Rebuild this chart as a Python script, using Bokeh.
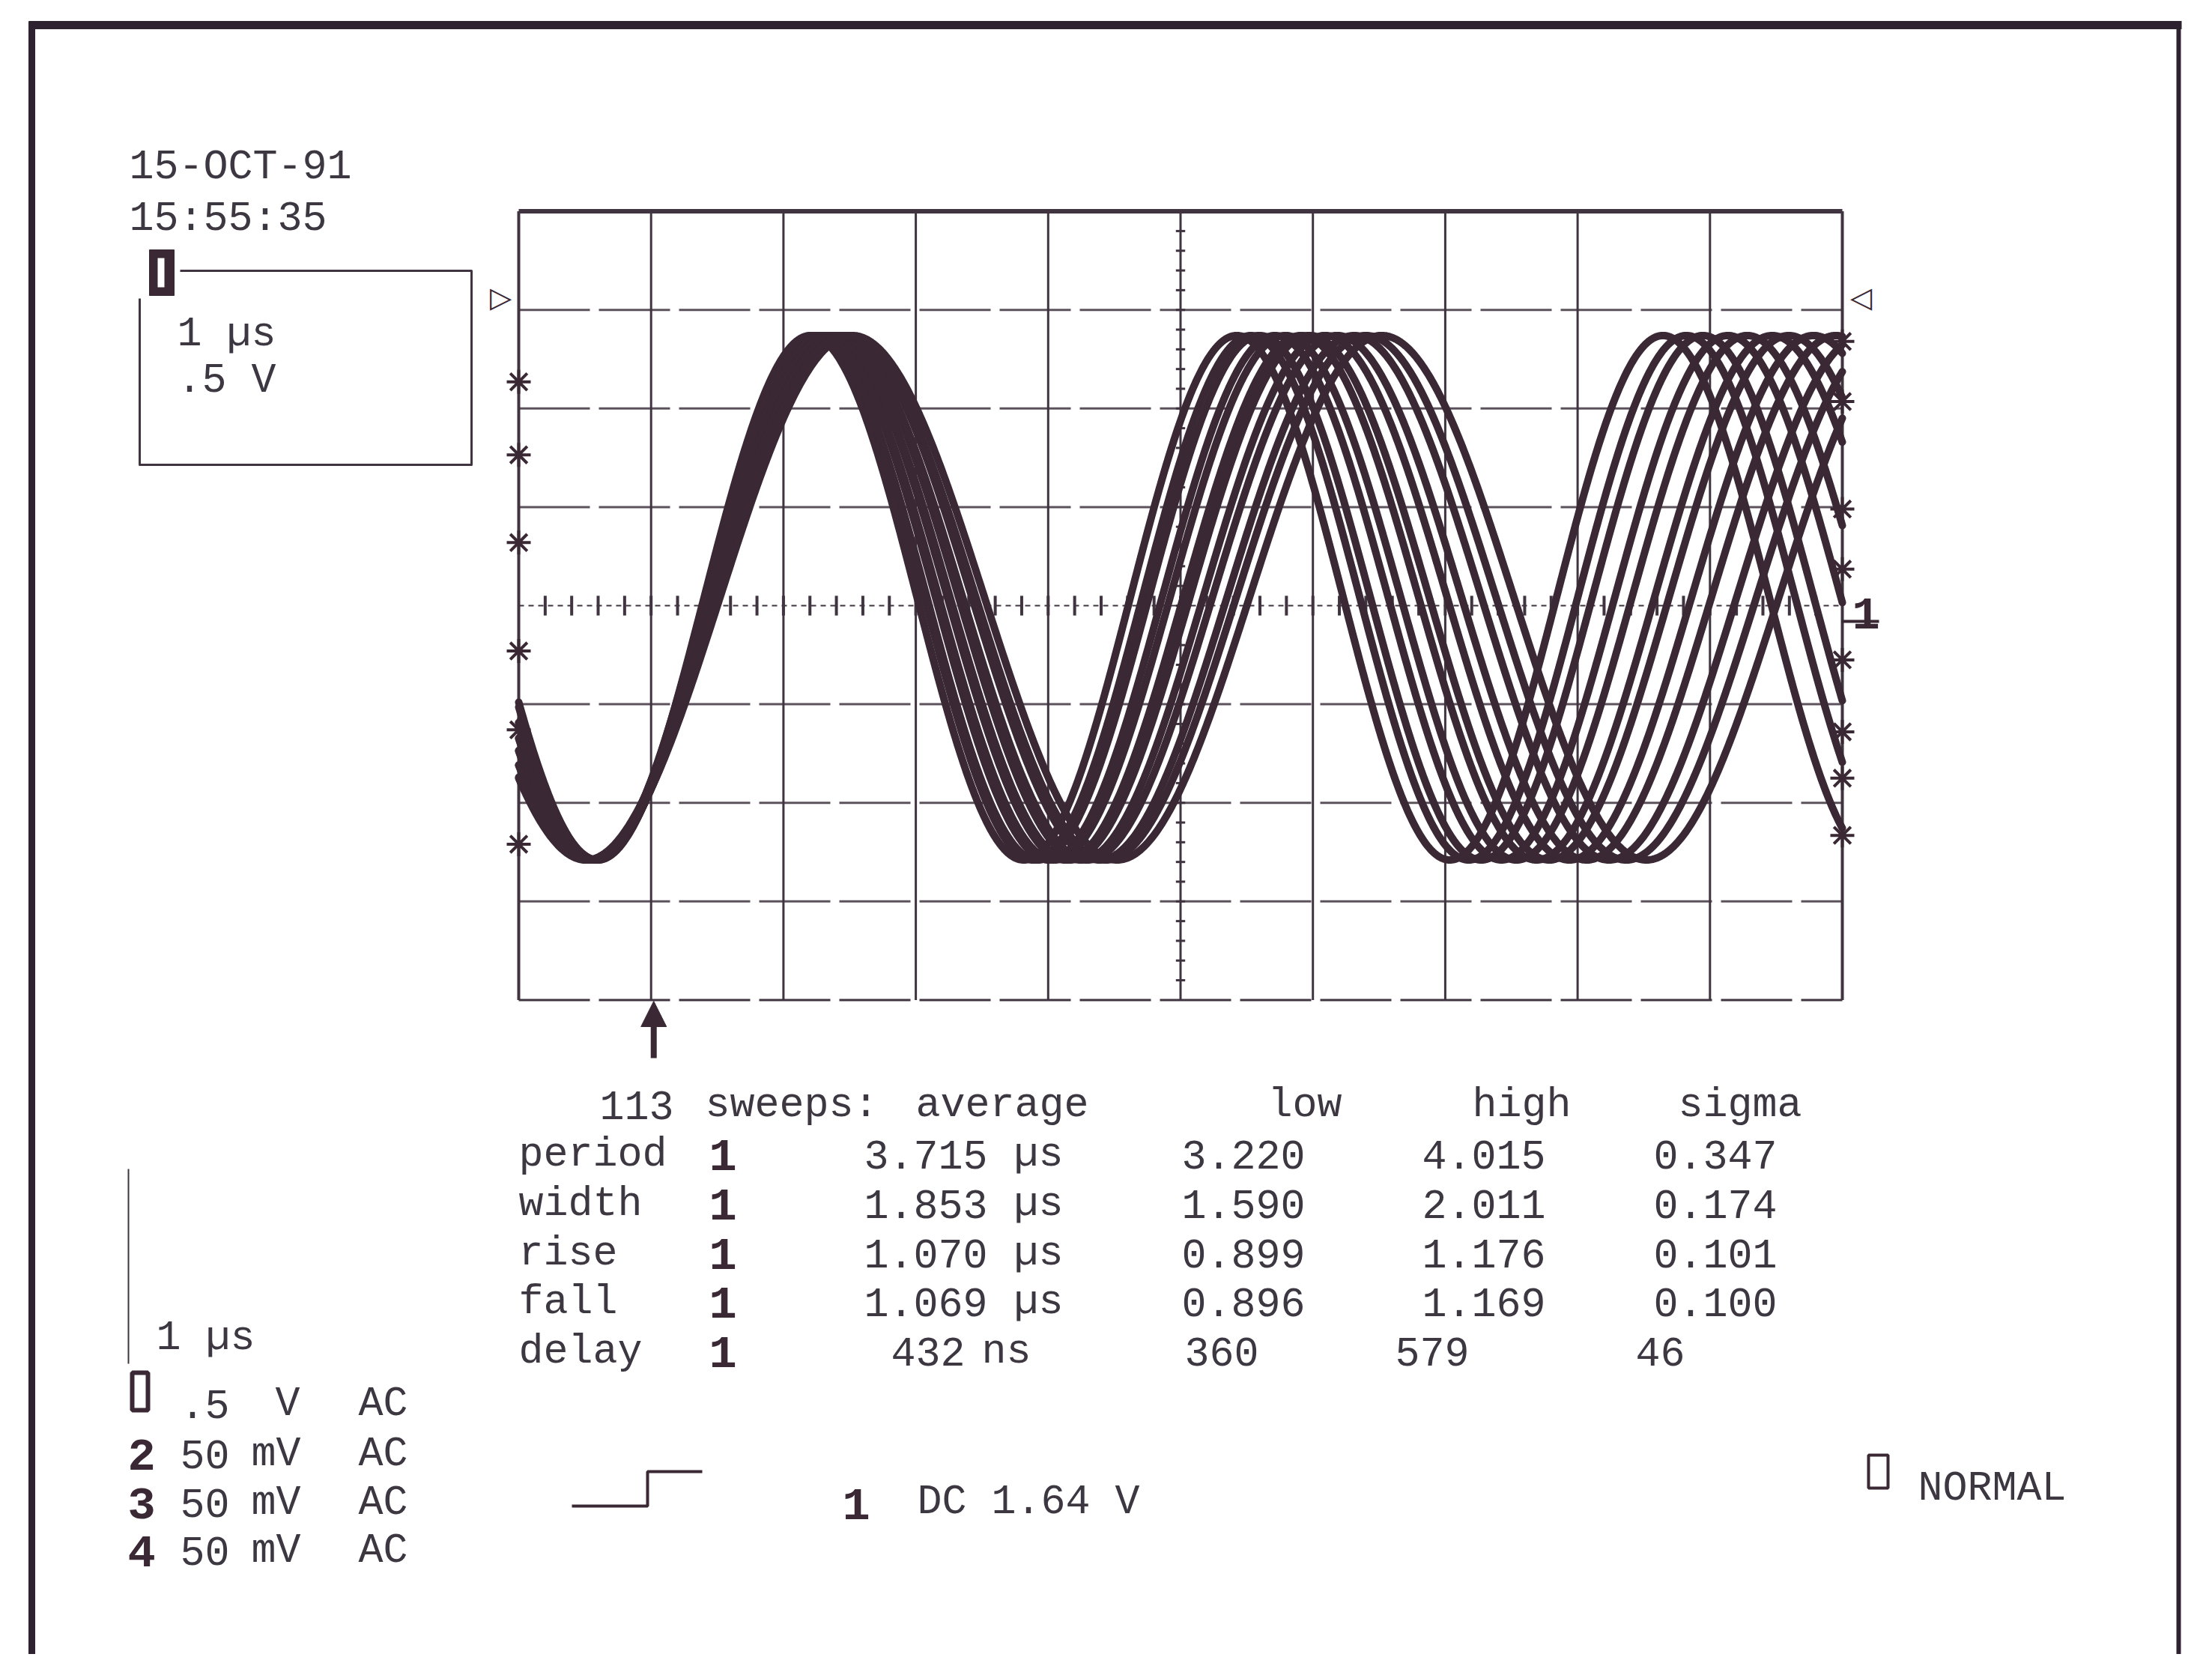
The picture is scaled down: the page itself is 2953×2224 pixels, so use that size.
import numpy as np
from bokeh.plotting import figure
from bokeh.models import Range1d, Arrow, NormalHead
from bokeh.embed import file_html
from bokeh.resources import INLINE
from bokeh.core.properties import value

# ---------------- data read from the screen ----------------
# sweeps overlaid on the display: period of each sweep (us) and the time (us)
# at which its rising edge crosses the centre line
sweep_period_us = [3.22, 3.29, 3.35, 3.42, 3.49, 3.56, 3.62, 3.69, 3.77, 3.85, 3.93, 4.00]
sweep_cross_us = [1.40, 1.42, 1.41, 1.44, 1.43, 1.46, 1.45, 1.48, 1.47, 1.50, 1.49, 1.52]
amplitude_v = 1.33
offset_v = 0.04
time_per_div_us = 1.0
volts_per_div = 0.5
n_div_x = 10
n_div_y = 8

date_text = "15-OCT-91"
time_text = "15:55:35"
box_lines = ["1 µs", ".5 V"]

header_words = ["113", "sweeps:", "average", "low", "high", "sigma"]
meas_names = ["period", "width", "rise", "fall", "delay"]
meas_avg = ["3.715", "1.853", "1.070", "1.069", "432"]
meas_unit = ["µs", "µs", "µs", "µs", "ns"]
meas_low = ["3.220", "1.590", "0.899", "0.896", "360"]
meas_high = ["4.015", "2.011", "1.176", "1.169", "579"]
meas_sigma = ["0.347", "0.174", "0.101", "0.100", "46"]

timebase_text = "1 µs"
channel_ids = ["1", "2", "3", "4"]
channel_scale = [".5", "50", "50", "50"]
channel_unit = ["V", "mV", "mV", "mV"]
channel_coupling = ["AC", "AC", "AC", "AC"]
trigger_text = "DC 1.64 V"
mode_text = "NORMAL"

left_marks_div = [2.27, 1.53, 0.64, -0.46, -1.26, -2.42]
right_marks_div = [2.68, 2.07, 0.98, 0.37, -0.55, -1.28, -1.75, -2.33]
trigger_pos_us = 1.02

# ---------------- layout (page pixels) ----------------
W, H = 2937, 2208
GX0, GXW = 692.0, 176.7      # grid left edge, px per division (x)
GY0, GYH = 808.0, 131.6      # grid centre line, px per division (y)
OFF = 0                      # page offset of the canvas


def dx(px):
    return (px - GX0) / GXW * time_per_div_us


def dy(py):
    return (GY0 - py) / GYH * volts_per_div


INK = "#3a2834"
GRID = "#3f3440"
TXT = "#3d3741"
FONT = value("Liberation Mono")
FS = "55px"

p = figure(width=W, height=H, output_backend="svg", toolbar_location=None,
           x_range=Range1d(dx(OFF), dx(OFF + W)), y_range=Range1d(dy(OFF + H), dy(OFF)),
           x_axis_location=None, y_axis_location=None, min_border=0,
           background_fill_color="white", border_fill_color="white",
           outline_line_color=None, tools="")
p.grid.visible = False

# outer page frame
p.multi_line(xs=[[dx(42), dx(42)], [dx(38), dx(2912)], [dx(2908), dx(2908)]],
             ys=[[dy(28), dy(2300)], [dy(33), dy(33)], [dy(28), dy(2300)]],
             line_color="#2e2230", line_width=[9, 11, 6])

# ---------------- graticule ----------------
x_max = n_div_x * time_per_div_us
y_half = n_div_y / 2 * volts_per_div
vx = [i * time_per_div_us for i in range(n_div_x + 1)]
p.segment(x0=vx, y0=[-y_half] * len(vx), x1=vx, y1=[y_half] * len(vx),
          line_color=GRID, line_width=[4] + [3] * (n_div_x - 1) + [4])
hy = [(j - n_div_y / 2) * volts_per_div for j in range(n_div_y + 1)]
inner = [y for y in hy if abs(y) < y_half - 1e-9 and abs(y) > 1e-9]
p.segment(x0=[0] * len(inner), y0=inner, x1=[x_max] * len(inner), y1=inner,
          line_color=GRID, line_width=3, line_dash="95 12", line_alpha=0.85)
p.segment(x0=[0], y0=[y_half], x1=[x_max], y1=[y_half], line_color=GRID, line_width=6)
p.segment(x0=[0], y0=[-y_half], x1=[x_max], y1=[-y_half], line_color=GRID,
          line_width=3, line_dash="95 12")
p.segment(x0=[0], y0=[0], x1=[x_max], y1=[0], line_color=GRID, line_width=2,
          line_dash="7 6")
tx = np.arange(0.2, x_max, 0.2 * time_per_div_us)
p.segment(x0=tx, y0=[-0.05] * len(tx), x1=tx, y1=[0.05] * len(tx),
          line_color=GRID, line_width=4)
ty = np.arange(-y_half + 0.1, y_half, 0.2 * volts_per_div)
cx = x_max / 2
p.segment(x0=[cx - 0.035] * len(ty), y0=ty, x1=[cx + 0.035] * len(ty), y1=ty,
          line_color=GRID, line_width=3)

# ---------------- sweeps ----------------
t = np.linspace(0, x_max, 1201)
xs, ys = [], []
for T, c in zip(sweep_period_us, sweep_cross_us):
    xs.append(t)
    ys.append(offset_v + amplitude_v * np.sin(2 * np.pi * (t - c) / T))
p.multi_line(xs=xs, ys=ys, line_color=INK, line_width=10, line_join="round",
             line_cap="round")

# edge markers
p.scatter(x=[0] * len(left_marks_div), y=[d * volts_per_div for d in left_marks_div],
          marker="asterisk", angle=np.pi / 2, size=32, line_width=4, line_color=INK)
p.scatter(x=[x_max] * len(right_marks_div), y=[d * volts_per_div for d in right_marks_div],
          marker="asterisk", angle=np.pi / 2, size=32, line_width=4, line_color=INK)
p.text(x=[dx(668), dx(2484)], y=[dy(396), dy(396)], text=["▷", "◁"],
       text_font=value("DejaVu Sans"), text_font_size="38px", text_align="center",
       text_baseline="middle", text_color=INK, text_font_style="bold")

# channel-1 ground marker on the right
p.text(x=[dx(2472)], y=[dy(818)], text=["1"], text_font=FONT, text_font_size="62px",
       text_font_style="bold", text_color=INK, text_baseline="alphabetic")
p.segment(x0=[dx(2458)], y0=[dy(829)], x1=[dx(2508)], y1=[dy(829)],
          line_color=INK, line_width=4)

# trigger position arrow
p.add_layout(Arrow(end=NormalHead(size=34, fill_color=INK, line_color=INK),
                   x_start=trigger_pos_us, y_start=dy(1412),
                   x_end=trigger_pos_us, y_end=dy(1336),
                   line_color=INK, line_width=8))


# ---------------- texts ----------------
def put(xpx, ypx, strings, size=FS, bold=False, color=TXT, align="left"):
    p.text(x=[dx(v) for v in xpx], y=[dy(v) for v in ypx], text=strings,
           text_font=FONT, text_font_size=size, text_color=color,
           text_font_style="bold" if bold else "normal",
           text_baseline="alphabetic", text_align=align)


put([172, 172], [223, 292], [date_text, time_text])

# top-left setting box
p.multi_line(xs=[[dx(186), dx(186), dx(629), dx(629), dx(240)]],
             ys=[[dy(398), dy(620), dy(620), dy(361), dy(361)]],
             line_color=GRID, line_width=3, line_join="round")
p.quad(left=[dx(199)], right=[dx(232)], top=[dy(333)], bottom=[dy(394)],
       fill_color=INK, line_color=INK)
p.quad(left=[dx(210)], right=[dx(219)], top=[dy(344)], bottom=[dy(383)],
       fill_color="white", line_color=None)
put([236, 236], [446, 508], box_lines)

# measurement table
put([800, 941, 1222, 1692, 1965, 2240], [1475] * 6, header_words)
row_base = [1541, 1607, 1673, 1738, 1804]
put([692] * 5, row_base, meas_names)
put([946] * 5, row_base, ["1"] * 5, size="62px", bold=True, color=INK)
put([1153, 1153, 1153, 1153, 1189], row_base, meas_avg)
put([1353, 1353, 1353, 1353, 1310], row_base, meas_unit)
put([1577, 1577, 1577, 1577, 1581], row_base, meas_low)
put([1898, 1898, 1898, 1898, 1862], row_base, meas_high)
put([2207, 2207, 2207, 2207, 2183], row_base, meas_sigma)

# channel settings, bottom left
p.segment(x0=[dx(171)], y0=[dy(1560)], x1=[dx(171)], y1=[dy(1820)],
          line_color=GRID, line_width=2)
put([208], [1786], [timebase_text])
ch_base = [1874, 1941, 2006, 2070]
p.quad(left=[dx(176)], right=[dx(197)], top=[dy(1832)], bottom=[dy(1882)],
       fill_color=None, line_color=INK, line_width=6)
put([170, 170, 170], ch_base[1:], channel_ids[1:], size="62px",
    bold=True, color=INK)
put([240] * 4, ch_base, channel_scale)
put([367, 335, 335, 335], ch_base, channel_unit)
put([478] * 4, ch_base, channel_coupling)

# trigger settings
p.multi_line(xs=[[dx(763), dx(864), dx(864), dx(937)]],
             ys=[[dy(2010), dy(2010), dy(1964), dy(1964)]],
             line_color=INK, line_width=4)
put([1124], [2007], [channel_ids[0]], size="62px", bold=True, color=INK)
put([1224], [2005], [trigger_text])
p.quad(left=[dx(2494)], right=[dx(2520)], top=[dy(1942)], bottom=[dy(1986)],
       fill_color=None, line_color=INK, line_width=4)
put([2560], [1987], [mode_text])

open("out.html", "w").write(file_html(p, INLINE))
